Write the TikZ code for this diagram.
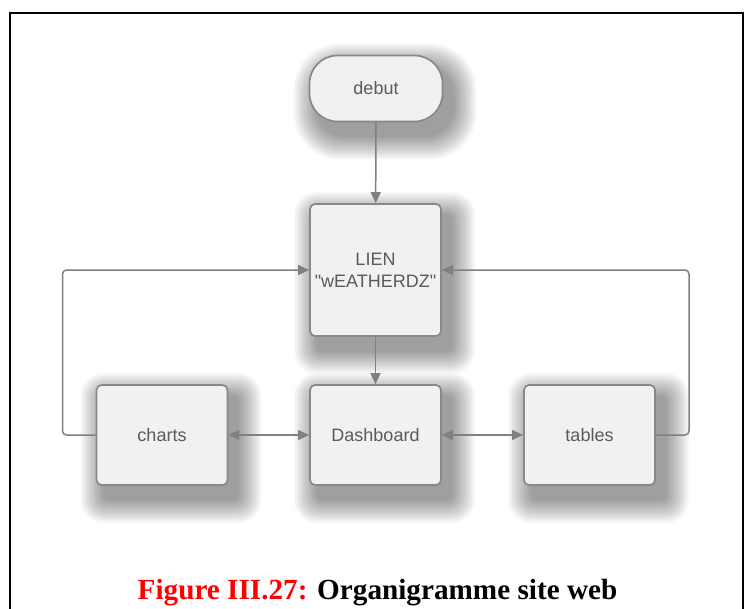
\documentclass[tikz,border=0pt]{standalone}
\usepackage{fontspec}
\setmainfont{Liberation Sans}
\newfontfamily\boxfont{Liberation Sans}[Ligatures=TeXOff]
\newfontfamily\capfont{Liberation Serif}
\usetikzlibrary{arrows.meta,backgrounds}
\definecolor{boxfill}{HTML}{F1F1F1}
\definecolor{boxline}{HTML}{888888}
\definecolor{connline}{HTML}{808080}
\definecolor{boxtext}{HTML}{5A5A5A}
\definecolor{capred}{HTML}{FF0000}
\tikzset{
  flowbox/.style={draw=boxline, line width=1.7pt, fill=boxfill, rounded corners=5pt,
    minimum width=131pt, minimum height=100pt, align=center, inner sep=0pt,
    text=boxtext, font=\boxfont\fontsize{18}{22}\selectfont},
  startbox/.style={flowbox, rounded corners=28pt, minimum height=66pt, minimum width=133pt},
  conn/.style={draw=connline, line width=1.5pt, rounded corners=4pt,
    -{Triangle[length=11pt,width=10pt]}},
  dconn/.style={conn, {Triangle[length=11pt,width=10pt]}-{Triangle[length=11pt,width=10pt]}},
  shadowlayer/.style={fill=black, opacity=0.022}
}
\begin{document}
\begin{tikzpicture}[x=1pt,y=-1pt]
\useasboundingbox (0,0) rectangle (746,608);
\node[startbox] (debut) at (376,88.5) {debut};
\node[flowbox, minimum height=132pt] (lien) at (375.5,270) {LIEN\\"wEATHERDZ"};
\node[flowbox] (dash) at (375.5,435) {Dashboard};
\node[flowbox] (charts) at (162,435) {charts};
\node[flowbox] (tables) at (589.5,435) {tables};
\begin{scope}[on background layer]
  \fill[white] (0,0) rectangle (746,608);
  \foreach \n/\r in {debut/28,lien/5,dash/5,charts/5,tables/5}{
    \foreach \i in {1,...,18}{
      \fill[shadowlayer, rounded corners=\r pt+\i pt]
        ([xshift=9pt-\i pt*1.35, yshift=-13pt+\i pt*1.35]\n.north west)
        rectangle ([xshift=9pt+\i pt*1.35, yshift=-13pt-\i pt*1.35]\n.south east);
    }
  }
\end{scope}
\draw[line width=2pt] (9.5,620) -- (9.5,12.5) -- (742.5,12.5) -- (742.5,620);
\draw[conn] (debut) -- (lien);
\draw[conn] (lien) -- (dash);
\draw[dconn] (charts) -- (dash);
\draw[dconn] (dash) -- (tables);
\coordinate (lc1) at (62.5,435);
\coordinate (lc2) at (62.5,270);
\coordinate (rc1) at (689,435);
\coordinate (rc2) at (689,270);
\draw[conn] (charts.west) -- (lc1) -- (lc2) -- (lien.west);
\draw[conn] (tables.east) -- (rc1) -- (rc2) -- (lien.east);
\node[anchor=base, font=\capfont\bfseries\fontsize{29.2}{33}\selectfont, inner sep=0pt] (cap) at (377.5,599)
  {\textcolor{capred}{Figure III.27:} Organigramme site web};
\end{tikzpicture}
\end{document}
